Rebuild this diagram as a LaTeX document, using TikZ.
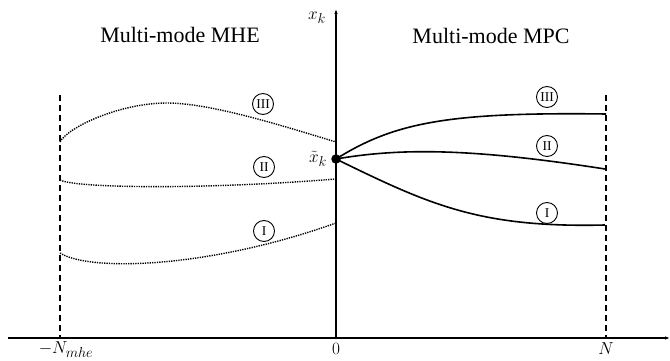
\documentclass[tikz,border=0pt]{standalone}
\usepackage{fontspec}
\setmainfont{Liberation Serif}
\usetikzlibrary{arrows.meta}
\begin{document}
\begin{tikzpicture}[x=1pt,y=-1pt,
  axis/.style={line width=1.2pt,-{Latex[length=5pt,width=3.5pt]}},
  horizon/.style={line width=1.2pt,dash pattern=on 6pt off 4pt},
  mpc/.style={line width=1.6pt},
  mhe/.style={line width=1.4pt,dash pattern=on 1.3pt off 1.1pt},
  modelbl/.style={draw,circle,line width=0.9pt,minimum size=21pt,inner sep=0pt,font=\fontsize{13.5}{13.5}\selectfont},
  title/.style={anchor=base,font=\fontsize{22}{24}\selectfont},
  mathlbl/.style={font=\fontsize{19}{20}\selectfont}]
\useasboundingbox (0,0) rectangle (670,361);
% axes
\coordinate (xs) at (8,338);
\coordinate (xe) at (670,338);
\coordinate (ys) at (336,338);
\coordinate (ye) at (336,9);
\draw[axis] (xs) -- (xe);
\draw[axis] (ys) -- (ye);
% horizons
\coordinate (lt) at (60,95);
\coordinate (lb) at (60,338);
\coordinate (rt) at (606,95);
\coordinate (rb) at (606,338);
\draw[horizon] (lt) -- (lb);
\draw[horizon] (rt) -- (rb);
% labels
\node[mathlbl] (nmhe) at (66,350) {$-N_{mhe}$};
\node[mathlbl] (zero) at (336,349) {$0$};
\node[mathlbl] (nn) at (606,349) {$N$};
\node[mathlbl] (xk) at (317,18) {$x_k$};
\node[title] (t1) at (180,43) {Multi-mode MHE};
\node[title] (t2) at (491,44) {Multi-mode MPC};
% initial state
\node[circle,fill=black,inner sep=0pt,minimum size=9.5pt] (dot) at (336,159) {};
\node[mathlbl] (xt) at (318,159) {$\tilde{x}_k$};
% MPC predictions
\coordinate (p3) at (606,114);
\coordinate (p2) at (605,169);
\coordinate (p1) at (605,225);
\draw[mpc] (dot.center) .. controls (395,122) and (450,112) .. (p3);
\draw[mpc] (dot.center) .. controls (400,148) and (470,148) .. (p2);
\draw[mpc] (dot.center) .. controls (430,205) and (480,228) .. (p1);
% MHE estimates
\coordinate (e3a) at (60,142);
\coordinate (e3m) at (167,103);
\coordinate (e3b) at (336,142);
\coordinate (e2a) at (60,180);
\coordinate (e2b) at (336,179);
\coordinate (e1a) at (60,253);
\coordinate (e1b) at (336,223);
\draw[mhe] (e3a) .. controls (68,127) and (120,103) .. (e3m) .. controls (210,103) and (280,125) .. (e3b);
\draw[mhe] (e2a) .. controls (75,188) and (200,190) .. (e2b);
\draw[mhe] (e1a) .. controls (90,272) and (210,268) .. (e1b);
% mode labels
\node[modelbl] (h3) at (263,104) {III};
\node[modelbl] (h2) at (264,167) {II};
\node[modelbl] (h1) at (264,231) {I};
\node[modelbl] (m3) at (547,97) {III};
\node[modelbl] (m2) at (547,146) {II};
\node[modelbl] (m1) at (547,213) {I};
\end{tikzpicture}
\end{document}
